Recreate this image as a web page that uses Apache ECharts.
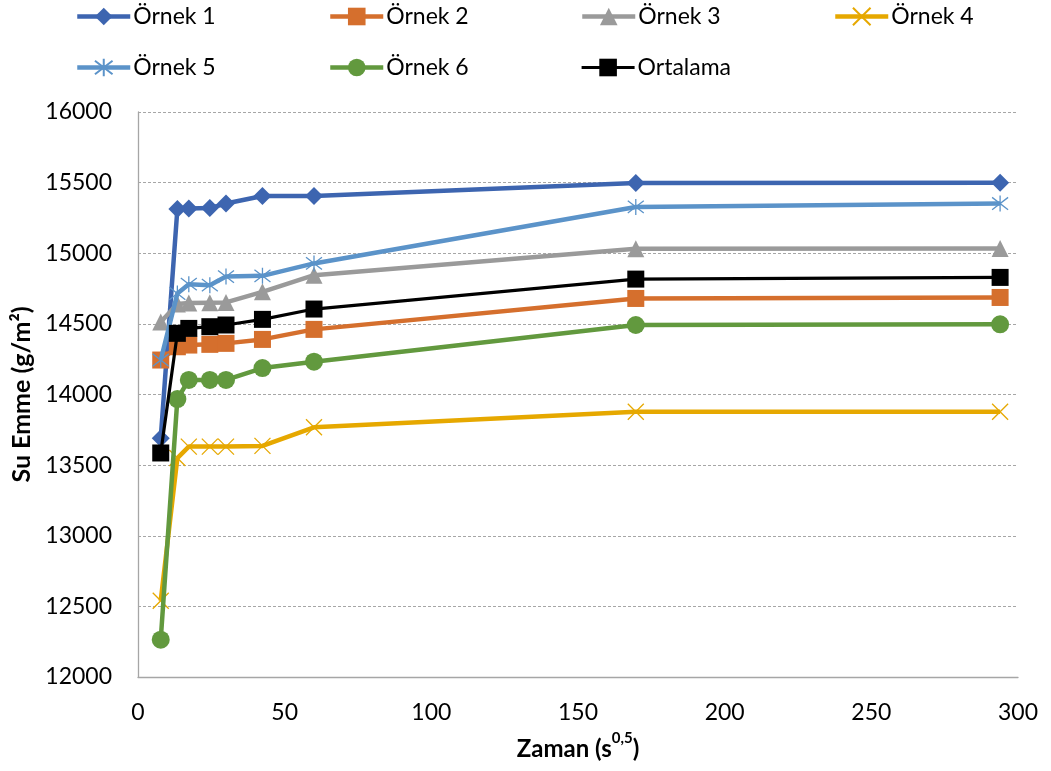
<!DOCTYPE html>
<html>
<head>
<meta charset="utf-8">
<script src="https://cdn.jsdelivr.net/npm/echarts@6/dist/echarts.min.js"></script>
<style>
  html, body { margin: 0; padding: 0; background: #fff; }
  #chart { width: 1051px; height: 771px; }
</style>
</head>
<body>
<div id="chart"></div>
<script>
// Time axis in s^0.5
const zaman = [7.75, 13.42, 17.32, 24.49, 30.0, 42.43, 60.0, 169.7, 293.9];

// Water absorption (g/m²) per sample
const seriesNames = ['Örnek 1', 'Örnek 2', 'Örnek 3', 'Örnek 4', 'Örnek 5', 'Örnek 6', 'Ortalama'];
const ornek1Values = [13690, 15313, 15316, 15320, 15352, 15405, 15405, 15498, 15500];
const ornek2Values = [14244, 14338, 14350, 14355, 14362, 14390, 14461, 14680, 14687];
const ornek3Values = [14513, 14640, 14647, 14650, 14652, 14727, 14845, 15032, 15034];
const ornek4Values = [12540, 13550, 13631, 13631, 13631, 13636, 13768, 13878, 13878];
const ornek5Values = [14244, 14715, 14781, 14774, 14835, 14840, 14928, 15328, 15352];
const ornek6Values = [12264, 13968, 14103, 14103, 14103, 14187, 14232, 14492, 14497];
const ortalamaValues = [13586, 14433, 14468, 14480, 14492, 14532, 14605, 14817, 14829];

const xTicks = { min: 0, max: 300, interval: 50 };
const yTicks = { min: 12000, max: 16000, interval: 500 };

const colors = ['#3D65B0', '#D56F2D', '#9A9A9A', '#E6A800', '#5B93C9', '#62993E', '#000000'];
const valueSets = [ornek1Values, ornek2Values, ornek3Values, ornek4Values, ornek5Values, ornek6Values, ortalamaValues];

const FONT = 'Lato, "Open Sans", sans-serif';

const crossPath = 'path://M0,0L10,10M10,0L0,10';
const asteriskPath = 'path://M0,0L10,10M10,0L0,10M5,-1.5L5,11.5';

const markerDefs = [
  { symbol: 'diamond', size: 18, stroke: 0 },
  { symbol: 'rect', size: 17, stroke: 0 },
  { symbol: 'triangle', size: 17, stroke: 0 },
  { symbol: crossPath, size: 16, stroke: 1.3 },
  { symbol: asteriskPath, size: 16, stroke: 1.3 },
  { symbol: 'circle', size: 18, stroke: 0 },
  { symbol: 'rect', size: 17, stroke: 0 }
];

const lineWidths = [4.5, 4.5, 4.5, 4.5, 4.5, 4.5, 3.2];

const series = seriesNames.map((name, i) => ({
  name: name,
  type: 'line',
  data: zaman.map((x, j) => [x, valueSets[i][j]]),
  symbol: markerDefs[i].symbol,
  symbolSize: markerDefs[i].size,
  showAllSymbol: true,
  lineStyle: { color: colors[i], width: lineWidths[i] },
  itemStyle: {
    color: colors[i],
    borderColor: colors[i],
    borderWidth: markerDefs[i].stroke
  },
  emphasis: { disabled: true },
  animation: false,
  z: 2 + i
}));

// Legend laid out as a two-row grid of four columns
const legendCols = [75, 328, 580, 833];
const legendRows = [5, 56];
const legends = seriesNames.map((name, i) => ({
  data: [name],
  left: legendCols[i % 4],
  top: legendRows[Math.floor(i / 4)],
  padding: 0,
  itemWidth: 53,
  itemHeight: 22,
  itemGap: 0,
  lineStyle: { width: lineWidths[i] },
  textStyle: { fontFamily: FONT, fontSize: 23, color: '#000', padding: [0, 0, 0, -2] },
  selectedMode: false
}));

const chart = echarts.init(document.getElementById('chart'), null, { renderer: 'canvas' });
chart.setOption({
  backgroundColor: '#ffffff',
  animation: false,
  color: colors,
  legend: legends,
  grid: { left: 138, right: 33, top: 112, bottom: 94, containLabel: false },
  xAxis: {
    type: 'value',
    min: xTicks.min, max: xTicks.max, interval: xTicks.interval,
    name: '{b|Zaman (s}{sup|0,5}{b|)}',
    nameLocation: 'middle',
    nameGap: 54,
    nameTextStyle: {
      rich: {
        b: { fontFamily: FONT, fontWeight: 'bold', fontSize: 24, color: '#000', lineHeight: 30, verticalAlign: 'bottom' },
        sup: { fontFamily: FONT, fontWeight: 'bold', fontSize: 15, color: '#000', lineHeight: 30, verticalAlign: 'top' }
      }
    },
    axisLine: { show: true, lineStyle: { color: '#A6A6A6', width: 1.3 } },
    axisTick: { show: false },
    axisLabel: { fontFamily: FONT, fontSize: 23, color: '#000', margin: 24 },
    splitLine: { show: false }
  },
  yAxis: {
    type: 'value',
    min: yTicks.min, max: yTicks.max, interval: yTicks.interval,
    name: 'Su Emme (g/m²)',
    nameLocation: 'middle',
    nameGap: 103,
    nameTextStyle: { fontFamily: FONT, fontWeight: 'bold', fontSize: 25, color: '#000' },
    axisLine: { show: true, lineStyle: { color: '#A6A6A6', width: 1.3 } },
    axisTick: { show: false },
    axisLabel: { fontFamily: FONT, fontSize: 23, color: '#000', margin: 26, formatter: (v) => String(v) },
    splitLine: { show: true, lineStyle: { color: '#A6A6A6', width: 1, type: [3, 2] } }
  },
  series: series
});
</script>
</body>
</html>
